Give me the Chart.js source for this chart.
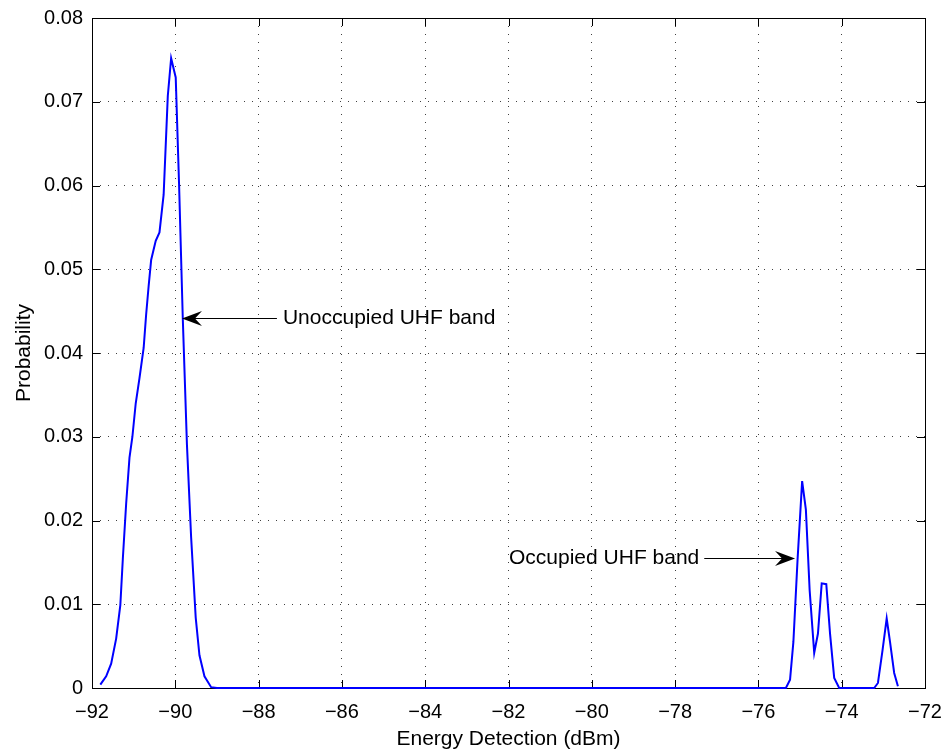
<!DOCTYPE html>
<html><head><meta charset="utf-8">
<script src="https://cdn.jsdelivr.net/npm/chart.js@4"></script>
<style>html,body{margin:0;padding:0;background:#fff}#wrap{width:943px;height:750px}</style>
</head><body><div id="wrap"><canvas id="c" width="943" height="750"></canvas></div>
<script>
const energyDbm = [
  -91.8, -91.66, -91.54, -91.42, -91.32, -91.26, -91.18, -91.1, -91.03, -90.95,
  -90.86, -90.76, -90.7, -90.64, -90.58, -90.47, -90.38, -90.28, -90.18, -90.1,
  -89.99, -89.91, -89.82, -89.72, -89.62, -89.51, -89.42, -89.3, -89.14, -89.0,
  -75.34, -75.24, -75.16, -75.06, -74.95, -74.86, -74.77, -74.66, -74.57, -74.48,
  -74.37, -74.28, -74.18, -74.06, -73.22, -73.13, -73.02, -72.92, -72.84, -72.74, -72.65
];
const probability = [
  0.0004, 0.0014, 0.0029, 0.0059, 0.0099, 0.0154, 0.022, 0.0275, 0.030, 0.034,
  0.037, 0.0406, 0.0446, 0.048, 0.0511, 0.0534, 0.0544, 0.0589, 0.0707, 0.0752,
  0.0729, 0.0602, 0.0441, 0.029, 0.018, 0.0084, 0.0039, 0.0014, 0.0001, 0,
  0, 0.001, 0.0055, 0.0153, 0.0247, 0.0213, 0.0117, 0.0042, 0.0065, 0.0125,
  0.0124, 0.0065, 0.0012, 0, 0, 0.0006, 0.0045, 0.0083, 0.0055, 0.0018, 0.0002
];
const xTickValues = [-92, -90, -88, -86, -84, -82, -80, -78, -76, -74, -72];
const yTickValues = [0, 0.01, 0.02, 0.03, 0.04, 0.05, 0.06, 0.07, 0.08];
const yTickLabels = ['0', '0.01', '0.02', '0.03', '0.04', '0.05', '0.06', '0.07', '0.08'];
const xAxisTitle = 'Energy Detection (dBm)';
const yAxisTitle = 'Probability';
const annotationTexts = ['Unoccupied UHF band', 'Occupied UHF band'];
const annotationTipX = [-89.84, -75.12];
const annotationTipY = [0.0442, 0.0155];
const annotationTailX = [-87.56, -77.3];
const annotationTextSide = ['right', 'left'];

const FONT = '"Liberation Sans", Arial, Helvetica, sans-serif';

const framePlugin = {
  id: 'frame',
  beforeDatasetsDraw(chart) {
    const ctx = chart.ctx, a = chart.chartArea;
    const xs = chart.scales.x, ys = chart.scales.y;
    const TL = 8;
    ctx.save();
    ctx.strokeStyle = '#000';
    ctx.lineWidth = 1;
    ctx.setLineDash([]);
    ctx.beginPath();
    xTickValues.forEach(v => {
      const px = Math.round(xs.getPixelForValue(v)) + 0.5;
      ctx.moveTo(px, a.bottom); ctx.lineTo(px, a.bottom - TL);
      ctx.moveTo(px, a.top); ctx.lineTo(px, a.top + TL);
    });
    yTickValues.forEach(v => {
      const py = Math.round(ys.getPixelForValue(v)) + 0.5;
      ctx.moveTo(a.left, py); ctx.lineTo(a.left + TL, py);
      ctx.moveTo(a.right, py); ctx.lineTo(a.right - TL, py);
    });
    ctx.stroke();
    ctx.strokeRect(Math.round(a.left) + 0.5, Math.round(a.top) + 0.5,
      Math.round(a.right - a.left), Math.round(a.bottom - a.top));
    ctx.restore();
  },
  afterDraw(chart) {
    const ctx = chart.ctx;
    const xs = chart.scales.x, ys = chart.scales.y;
    ctx.save();
    ctx.fillStyle = '#000';
    ctx.strokeStyle = '#000';
    ctx.lineWidth = 1;
    ctx.font = '21px ' + FONT;
    ctx.textBaseline = 'middle';
    annotationTexts.forEach((t, i) => {
      const tx = xs.getPixelForValue(annotationTipX[i]);
      const ty = Math.round(ys.getPixelForValue(annotationTipY[i])) + 0.5;
      const lx = xs.getPixelForValue(annotationTailX[i]);
      const dir = lx > tx ? 1 : -1;
      const L = 20, W = 7.5, N = 13;
      ctx.beginPath();
      ctx.moveTo(tx + dir * N, ty);
      ctx.lineTo(lx, ty);
      ctx.stroke();
      ctx.beginPath();
      ctx.moveTo(tx, ty);
      ctx.lineTo(tx + dir * L, ty - W);
      ctx.lineTo(tx + dir * N, ty);
      ctx.lineTo(tx + dir * L, ty + W);
      ctx.closePath();
      ctx.fill();
      if (annotationTextSide[i] === 'right') {
        ctx.textAlign = 'left';
        ctx.fillText(t, lx + 6, ty);
      } else {
        ctx.textAlign = 'right';
        ctx.fillText(t, lx - 5, ty);
      }
    });
    ctx.restore();
  }
};

const points = energyDbm.map((x, i) => ({ x: x, y: probability[i] }));

new Chart(document.getElementById('c'), {
  type: 'line',
  data: {
    datasets: [{
      data: points,
      borderColor: '#0000ff',
      borderWidth: 2,
      pointRadius: 0,
      tension: 0,
      fill: false,
      clip: 6
    }]
  },
  options: {
    responsive: false,
    animation: false,
    devicePixelRatio: 1,
    layout: { padding: { top: 18, right: 18, left: 0, bottom: 0 } },
    plugins: { legend: { display: false }, tooltip: { enabled: false } },
    scales: {
      x: {
        type: 'linear',
        min: -92, max: -72,
        afterBuildTicks: s => { s.ticks = xTickValues.map(v => ({ value: v })); },
        afterFit: s => { s.height = 62; s.paddingLeft = 0; s.paddingRight = 0; },
        ticks: {
          color: '#000', font: { size: 20, family: FONT }, padding: 12,
          maxRotation: 0, autoSkip: false,
          callback: v => (v < 0 ? '\u2212' + Math.abs(v) : String(v))
        },
        grid: { color: 'rgba(0,0,0,0.75)', lineWidth: 1, drawTicks: false },
        border: { display: false, dash: [1, 7] },
        title: {
          display: true, text: xAxisTitle, color: '#000',
          font: { size: 21, family: FONT, lineHeight: 1 }, padding: { top: 0, bottom: 0 }
        }
      },
      y: {
        type: 'linear',
        min: 0, max: 0.08,
        afterBuildTicks: s => { s.ticks = yTickValues.map(v => ({ value: v })); },
        afterFit: s => { s.width = 92; s.paddingTop = 0; s.paddingBottom = 0; },
        ticks: {
          color: '#000', font: { size: 20, family: FONT }, padding: 9, autoSkip: false,
          callback: (v, i) => yTickLabels[i]
        },
        grid: { color: 'rgba(0,0,0,0.75)', lineWidth: 1, drawTicks: false },
        border: { display: false, dash: [1, 7] },
        title: {
          display: true, text: yAxisTitle, color: '#000',
          font: { size: 21, family: FONT, lineHeight: 1 }, padding: { top: 13.5, bottom: 0 }
        }
      }
    }
  },
  plugins: [framePlugin]
});
</script>
</body></html>
